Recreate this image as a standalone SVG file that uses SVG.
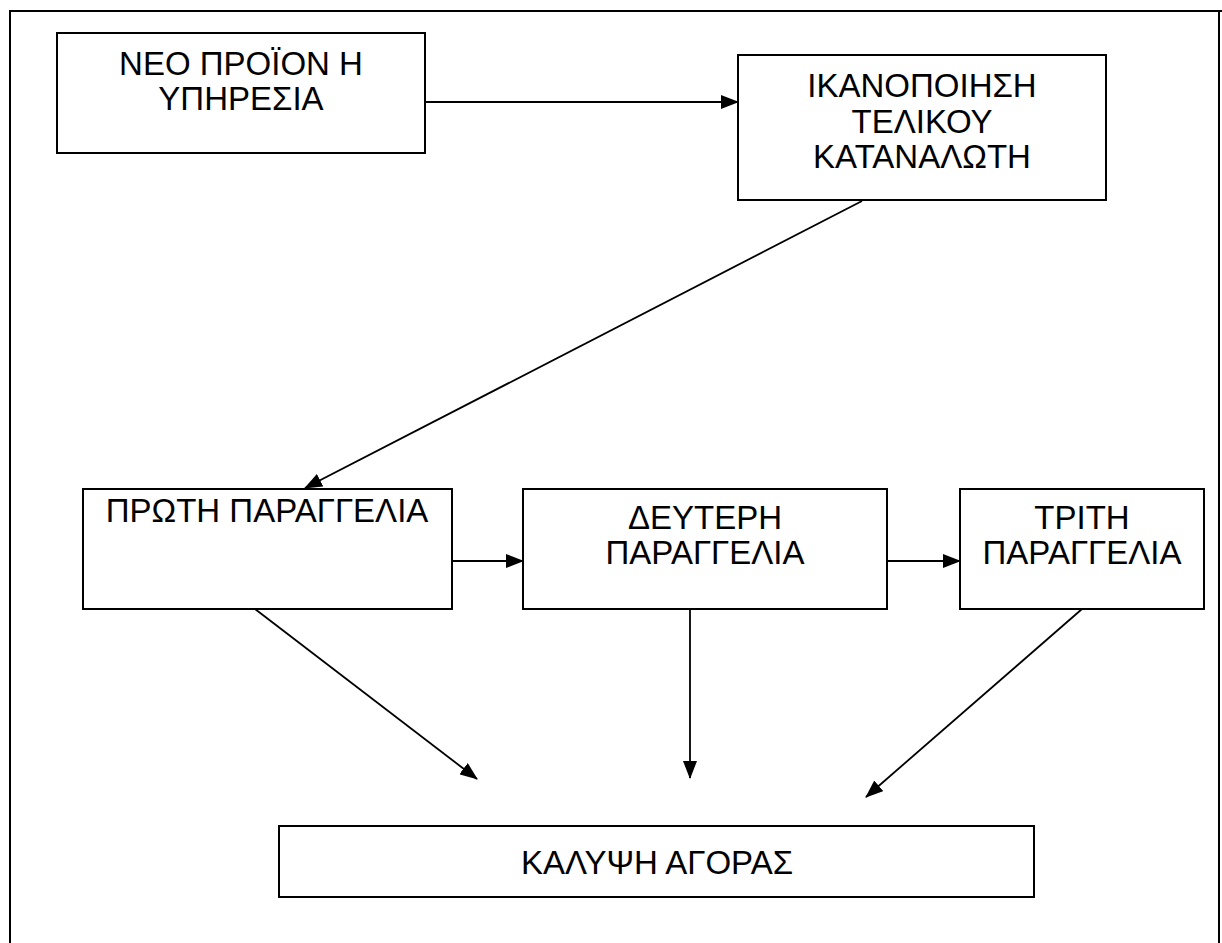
<svg xmlns="http://www.w3.org/2000/svg" width="1222" height="943" viewBox="0 0 1222 943">
<style>
.box{fill:#fff;stroke:#000;stroke-width:2}
.lbl{font-family:"Liberation Sans",Arial,sans-serif;font-size:33px;fill:#000;text-anchor:middle}
.con{stroke:#000;stroke-width:1.8;fill:none;marker-end:url(#ah)}
.frame{stroke:#000;stroke-width:2;fill:none}
</style>
<defs>
<marker id="ah" markerWidth="18" markerHeight="14" refX="17" refY="7" orient="auto" markerUnits="userSpaceOnUse">
<path d="M0,0 L18,7 L0,14 Z" fill="#000"/>
</marker>
</defs>
<rect width="1222" height="943" fill="#fff"/>
<g id="frame">
<path class="frame" d="M10,943 L10,11 L1222,11"/>
<path class="frame" d="M1219,11 L1219,943"/>
</g>
<g id="node-neo">
<rect class="box" x="57" y="33" width="368" height="120"/>
<text class="lbl" x="241" y="75">ΝΕΟ ΠΡΟΪΟΝ Η</text>
<text class="lbl" x="241" y="110">ΥΠΗΡΕΣΙΑ</text>
</g>
<g id="node-ikanopoiisi">
<rect class="box" x="738" y="55" width="368" height="145"/>
<text class="lbl" x="922" y="97">ΙΚΑΝΟΠΟΙΗΣΗ</text>
<text class="lbl" x="922" y="133">ΤΕΛΙΚΟΥ</text>
<text class="lbl" x="922" y="168">ΚΑΤΑΝΑΛΩΤΗ</text>
</g>
<g id="node-proti">
<rect class="box" x="83" y="489" width="369" height="120"/>
<text class="lbl" x="267" y="522">ΠΡΩΤΗ ΠΑΡΑΓΓΕΛΙΑ</text>
</g>
<g id="node-defteri">
<rect class="box" x="523" y="489" width="364" height="120"/>
<text class="lbl" x="705" y="529">ΔΕΥΤΕΡΗ</text>
<text class="lbl" x="705" y="564">ΠΑΡΑΓΓΕΛΙΑ</text>
</g>
<g id="node-triti">
<rect class="box" x="960" y="489" width="244" height="120"/>
<text class="lbl" x="1082" y="529">ΤΡΙΤΗ</text>
<text class="lbl" x="1082" y="564">ΠΑΡΑΓΓΕΛΙΑ</text>
</g>
<g id="node-kalypsi">
<rect class="box" x="279" y="826" width="755" height="71"/>
<text class="lbl" x="657" y="874">ΚΑΛΥΨΗ ΑΓΟΡΑΣ</text>
</g>
<g id="connectors">
<line class="con" x1="425" y1="102" x2="738" y2="102"/>
<line class="con" x1="862" y1="201" x2="305" y2="488"/>
<line class="con" x1="452" y1="561" x2="523" y2="561"/>
<line class="con" x1="887" y1="561" x2="960" y2="561"/>
<line class="con" x1="255" y1="609" x2="477" y2="779"/>
<line class="con" x1="690" y1="609" x2="690" y2="778"/>
<line class="con" x1="1082" y1="609" x2="866" y2="797"/>
</g>
</svg>
